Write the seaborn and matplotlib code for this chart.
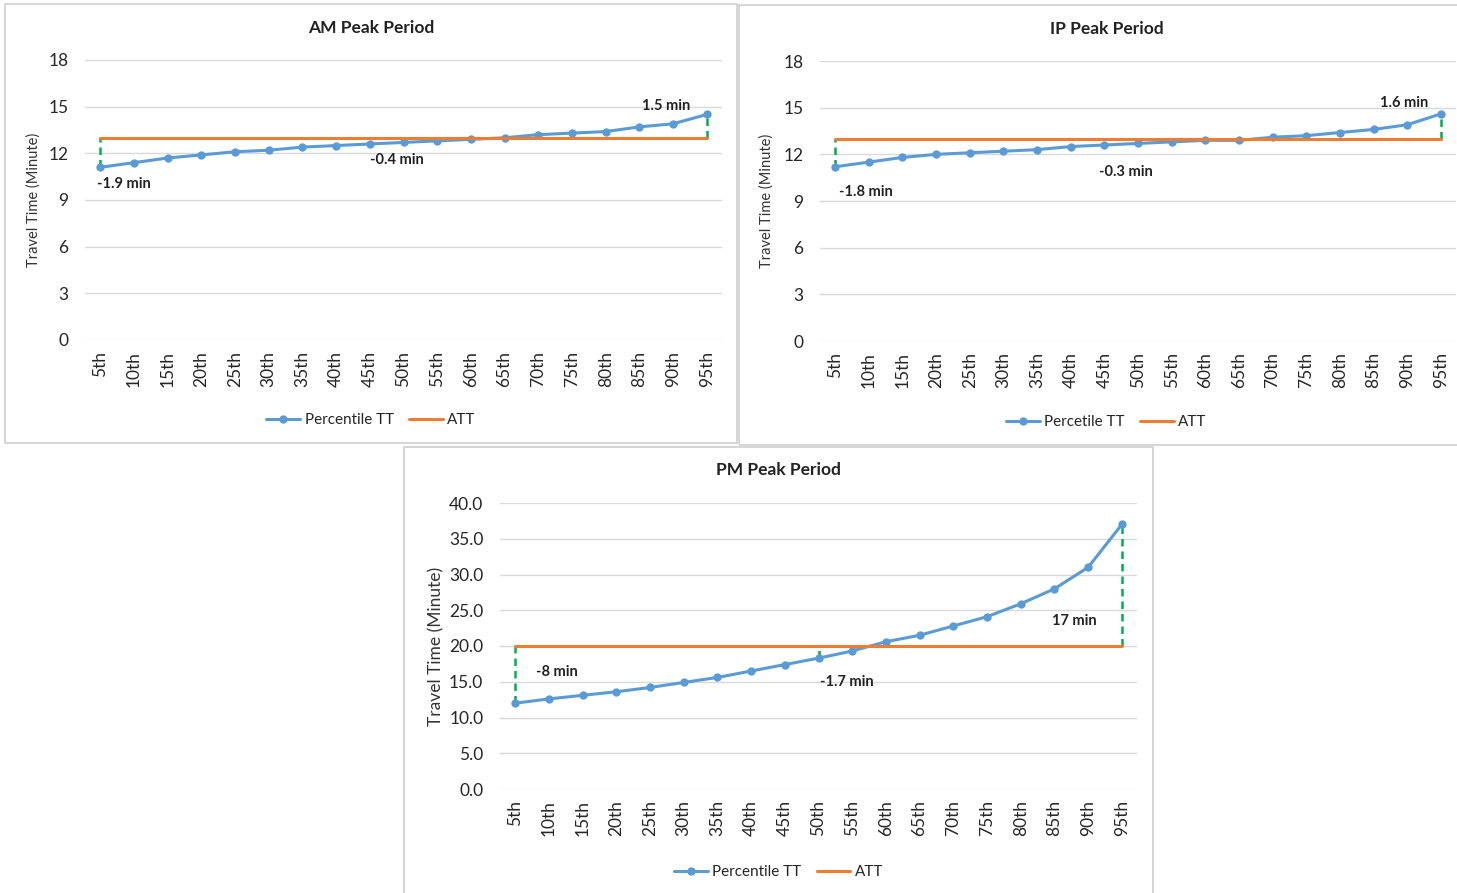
import matplotlib.pyplot as plt
import matplotlib.patches as mpatches
import numpy as np
import pandas as pd
import seaborn as sns

# percentile categories shared by all three panels
percentiles = ["5th", "10th", "15th", "20th", "25th", "30th", "35th", "40th", "45th", "50th",
               "55th", "60th", "65th", "70th", "75th", "80th", "85th", "90th", "95th"]

am_tt = [11.1, 11.4, 11.7, 11.9, 12.1, 12.2, 12.4, 12.5, 12.6, 12.7,
         12.8, 12.9, 13.0, 13.2, 13.3, 13.4, 13.7, 13.9, 14.5]
am_att = 13.0

ip_tt = [11.2, 11.5, 11.8, 12.0, 12.1, 12.2, 12.3, 12.5, 12.6, 12.7,
         12.8, 12.9, 12.9, 13.1, 13.2, 13.4, 13.6, 13.9, 14.6]
ip_att = 13.0

pm_tt = [12.0, 12.6, 13.1, 13.6, 14.2, 14.9, 15.6, 16.5, 17.4, 18.3,
         19.3, 20.6, 21.5, 22.8, 24.1, 25.9, 28.0, 31.0, 37.0]
pm_att = 20.0

# gap labels: (category index, label)
am_gaps = [(0, "-1.9 min"), (9, "-0.4 min"), (18, "1.5 min")]
ip_gaps = [(0, "-1.8 min"), (9, "-0.3 min"), (18, "1.6 min")]
pm_gaps = [(0, "-8 min"), (9, "-1.7 min"), (18, "17 min")]

BLUE = "#5B9BD5"
ORANGE = "#ED7D31"
GREEN = "#00B050"

sns.set_theme(style="whitegrid")
plt.rcParams["font.family"] = ["Lato", "DejaVu Sans"]
plt.rcParams["axes.unicode_minus"] = False

fig = plt.figure(figsize=(14.57, 8.93), dpi=100)
W, H = 1457, 893


def draw_panel(box, rect, title, tt, att, gaps, label_pos, tt_name, ymax, ystep, fmt,
               ylab_fs, ylab_x, title_y, legend_y):
    x0, y0, x1, y1 = box
    fig.patches.append(mpatches.Rectangle((x0 / W, 1 - y1 / H), (x1 - x0) / W, (y1 - y0) / H,
                                          transform=fig.transFigure, fill=False,
                                          edgecolor="#D0D0D0", linewidth=1.2))
    cx = (x0 + x1) / 2 / W
    ax = fig.add_axes(rect)
    pos = np.arange(len(percentiles))
    df = pd.DataFrame({"pos": pos, "tt": tt})
    df["att"] = att
    sns.lineplot(data=df, x="pos", y="tt", ax=ax, color=BLUE, linewidth=2.2,
                 marker="o", markersize=6, markeredgewidth=0, label=tt_name)
    sns.lineplot(data=df, x="pos", y="att", ax=ax, color=ORANGE, linewidth=2.2, label="ATT")
    for (i, txt), (lx, ly) in zip(gaps, label_pos):
        lo, hi = sorted([tt[i], att])
        ax.vlines(i, lo, hi, colors=GREEN, linestyles=(0, (3, 2)), linewidth=1.8, zorder=1)
        ax.text(lx, ly, txt, ha="center", va="center", fontsize=10.5, fontweight="bold",
                color="#222222")
    ax.set_xlim(-0.45, len(percentiles) - 0.55)
    ax.set_ylim(0, ymax)
    ticks = np.arange(0, ymax + 0.01, ystep)
    ax.set_yticks(ticks)
    ax.set_yticklabels([fmt.format(v) for v in ticks], fontsize=12.5)
    ax.set_xticks(pos)
    ax.set_xticklabels(percentiles, rotation=90, fontsize=12.5)
    ax.tick_params(axis="y", length=0, pad=12)
    ax.tick_params(axis="x", length=0, pad=8)
    ax.grid(axis="y", color="#D9D9D9", linewidth=1)
    ax.grid(axis="x", visible=False)
    for s in ax.spines.values():
        s.set_visible(False)
    ax.set_facecolor("none")
    ax.set_xlabel("")
    ax.set_ylabel("Travel Time (Minute)", fontsize=ylab_fs, color="#333333")
    ax.yaxis.set_label_coords(ylab_x, 0.5)
    fig.text(cx, 1 - title_y / H, title, ha="center", va="center",
             fontsize=12.5, fontweight="bold", color="#222222")
    ax.legend(loc="center", bbox_to_anchor=(cx, 1 - legend_y / H), bbox_transform=fig.transFigure,
              ncol=2, frameon=False, fontsize=11, handlelength=2.2, columnspacing=1.0,
              handletextpad=0.3)
    return ax


# AM panel
draw_panel((5, 4, 737, 443), [85 / W, 1 - 340 / H, 637 / W, 280 / H], "AM Peak Period",
           am_tt, am_att, am_gaps, [(0.7, 10.0), (8.8, 11.55), (16.8, 15.05)], "Percentile TT",
           18, 3, "{:.0f}", 10.5, -0.069, 28, 420)

# IP panel (cut off at the right edge in the original)
draw_panel((739, 5, 1474, 445), [820 / W, 1 - 341 / H, 636 / W, 280 / H], "IP Peak Period",
           ip_tt, ip_att, ip_gaps, [(0.9, 9.6), (8.65, 10.85), (16.9, 15.3)], "Percetile TT",
           18, 3, "{:.0f}", 10.5, -0.072, 29, 422)

# PM panel
draw_panel((404, 447, 1153, 898), [500 / W, 1 - 789 / H, 637 / W, 286 / H], "PM Peak Period",
           pm_tt, pm_att, pm_gaps, [(1.25, 16.4), (9.85, 15.0), (16.6, 23.5)], "Percentile TT",
           40, 5, "{:.1f}", 12.5, -0.088, 470, 872)

plt.savefig("out.png", dpi=100)
